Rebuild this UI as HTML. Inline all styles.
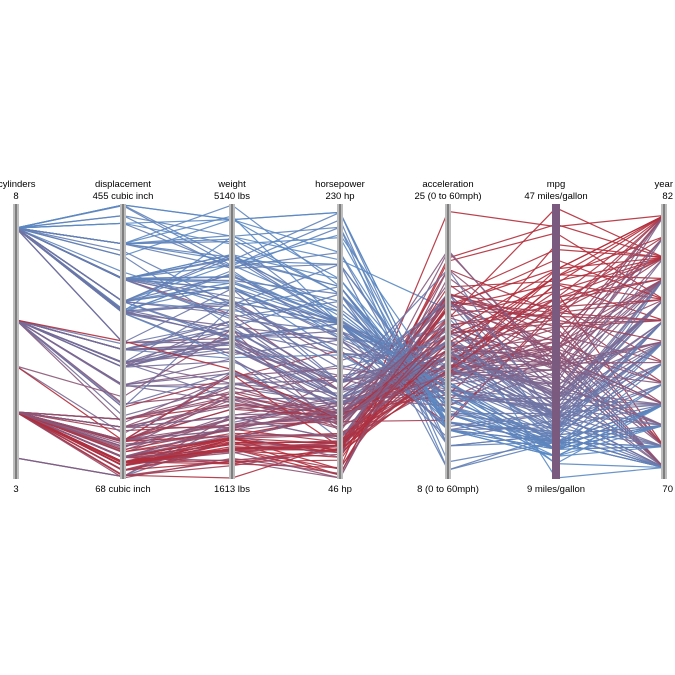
<!DOCTYPE html>
<html><head><meta charset="utf-8"><style>
html,body{margin:0;padding:0;background:#fff;}
svg{display:block;font-family:"Liberation Sans",sans-serif;}
</style></head><body>
<svg id="chart" width="675" height="675" viewBox="0 0 675 675">
<g id="lines"></g>
<g id="axes"></g>
</svg>
<script>
const dimNames = ["cylinders","displacement","weight","horsepower","acceleration","mpg","year"];
const dimMin = [3,68,1613,46,8,9,70];
const dimMax = [8,455,5140,230,25,47,82];
const minLabels = ["3","68 cubic inch","1613 lbs","46 hp","8 (0 to 60mph)","9 miles/gallon","70"];
const maxLabels = ["8","455 cubic inch","5140 lbs","230 hp","25 (0 to 60mph)","47 miles/gallon","82"];
// cars: [cylinders, displacement, weight, horsepower, acceleration, mpg, year]
const cars = [
[8,307,3504,130,12,18,70],[8,350,3693,165,11.5,15,70],[8,318,3436,150,11,18,70],[8,304,3433,150,12,16,70],
[8,302,3449,140,10.5,17,70],[8,429,4341,198,10,15,70],[8,454,4354,220,9,14,70],[8,440,4312,215,8.5,14,70],
[8,455,4425,225,10,14,70],[8,390,3850,190,8.5,15,70],[4,113,2372,95,15,24,70],[6,198,2833,95,15.5,22,70],
[6,199,2774,97,15.5,18,70],[6,200,2587,85,16,21,70],[4,97,2130,88,14.5,27,70],[4,97,1835,46,20.5,26,70],
[4,110,2672,87,17.5,25,70],[4,107,2430,90,14.5,24,70],[4,104,2375,95,17.5,25,70],[4,121,2234,113,12.5,26,70],
[8,304,4732,193,18.5,9,70],[4,97,2130,88,14.5,27,71],[4,140,2264,90,15.5,28,71],[4,113,2228,95,14,25,71],
[6,232,2634,100,13,19,71],[6,225,3439,105,15.5,16,71],[6,250,3329,100,15.5,17,71],[8,351,4154,153,13.5,14,71],
[8,383,4955,180,11.5,12,71],[8,400,4746,170,12,13,71],[4,79,2074,70,19.5,30,71],[4,71,1773,65,19,31,71],
[4,72,1613,69,18,35,71],[4,122,2226,86,16.5,22,72],[4,120,2979,87,19.5,21,72],[8,400,5140,175,12,13,71],
[8,400,4997,150,14,11,73],[8,429,4952,198,11.5,12,73],[4,98,2265,90,15.5,26,73],[6,156,2807,122,13.5,20,73],
[3,70,2124,90,13.5,18,73],[6,250,3158,72,19.5,15,75],[4,90,1937,70,14,29,75],[8,318,4498,150,14.5,16,75],
[4,120,2506,97,14.5,23,72],[3,70,2330,97,13.5,19,72],[4,90,2125,75,14.5,28,74],[4,71,1836,65,21,32,74],
[6,258,3632,110,18,16,74],[6,200,3012,81,17.6,24,76],[4,91,1795,53,17.5,33,75],[4,79,1825,58,18.6,36,77],
[4,90,1985,48,21.5,43.1,78],[4,98,1800,66,14.4,36.1,78],[8,302,3570,139,12.8,20.2,78],[8,318,4080,140,13.7,17.5,78],
[6,231,3535,105,19.2,19.2,78],[4,98,2045,68,18.5,31.5,77],[4,98,2144,76,14.7,41.5,80],[4,90,2085,48,21.7,44.3,80],
[4,86,2110,65,17.9,46.6,80],[3,70,2420,100,12.5,23.7,80],[6,168,2910,132,11.4,32.7,80],[4,85,2110,65,19.2,40.8,80],
[4,89,1845,62,15.3,29.8,80],[4,91,2130,69,14.7,37.3,79],[4,86,1975,65,15.2,34.1,79],[4,119,2300,97,14.7,27.2,78],
[4,151,2635,84,16.4,24.8,81],[8,350,3725,105,19,26.6,81],[6,232,2835,112,14.7,22,82],[4,105,2125,63,14.7,38,82],
[4,120,2160,88,14.5,36,82],[4,97,2130,52,24.6,44,82],[4,135,2295,84,11.6,32,82],[4,120,2625,79,18.6,28,82],
[4,119,2720,82,19.4,31,82],[4,140,2790,86,15.6,27,82],[4,108,2245,70,16.9,34,82],[6,225,3651,100,17.7,20,76],
[6,168,3820,120,16.7,16.5,76],[8,350,4055,145,12,13,76],[8,350,4165,170,11.4,15.5,77],[6,250,3520,110,16.4,17.5,77],
[4,98,2051,63,17,30.5,77],[5,131,2830,103,15.9,20.3,78],[5,183,3530,77,20.1,25.4,79],[5,121,2950,67,19.9,36.4,80],
[4,151,2556,90,13.2,33.5,79],[8,302,3205,139,11.2,18.1,78],[8,350,3900,125,17.4,23,79],[8,351,4054,142,14.3,15.5,79],
[8,260,3365,110,15.5,19.9,78],[6,173,2700,115,12.9,26.8,79],[4,151,2670,90,16,28.4,79],[6,231,3245,115,15.4,21.5,79],
[8,260,3420,90,22.2,23.9,79],[6,146,2930,120,13.8,24.2,81],[4,89,1968,60,18.8,38.1,80],[4,85,2070,70,18.6,39.4,78],
[4,97,1985,67,16.4,30,77],[4,140,2401,72,19.5,21,73],[8,318,4077,150,14,14,72],[8,360,3821,175,11,13,73],
[8,350,4499,180,12.5,12,73],[8,383,3563,170,10,15,70],[4,68,1867,49,19.5,29,73],[4,97,1950,46,21,26,73],
[6,171,2984,97,14.5,18,75],[6,250,3353,105,14.5,22,76],[4,78,1985,52,19.4,32.8,78],[4,98,2164,60,22.1,24.5,76],
[8,260,4060,110,19,17,77],[8,318,4382,210,13.5,11,70],[8,302,3169,129,12,13,75],[8,351,4215,152,12.8,14.5,76],
[6,250,3645,110,16.2,18.5,76],[4,140,2572,92,14.9,25,76],[4,121,2670,80,15,27.4,79],[4,122,2500,88,15.1,35,80],
[4,105,2190,74,14.2,33,81],[8,400,4464,175,11.5,14,71],[8,455,4951,225,11,14,73],[8,350,4209,165,12,13,72],
[4,116,2158,75,15.5,25,73],[4,97,2254,92,14.5,27,74],[6,225,3430,100,17.2,20,77],[4,91,1965,67,15.7,32,80],
[8,400,4668,150,11.5,14,72],[8,351,4129,158,13,13,72],[8,318,4135,150,13.5,13,72],[8,304,3892,150,12.5,15,72],
[8,429,4633,208,11,12,72],[8,350,4502,155,13.5,13,72],[8,350,4456,160,13.5,15,72],[8,400,4422,190,12.5,13,72],
[8,307,4098,130,14,13,72],[8,318,3777,150,12.5,14,73],[8,302,4294,140,16,14,73],[8,304,4257,150,14,13,73],
[8,351,4363,158,13,13,73],[8,318,4457,150,13.5,14,73],[8,440,4735,215,11,13,73],[8,455,4951,225,11,12,73],
[8,350,3664,145,11,16,73],[8,318,3399,150,11,14,73],[8,350,4440,175,12,14,74],[8,400,4699,170,13,13,74],
[8,350,3897,150,15,15,75],[8,318,4237,145,14.5,16,76],[8,351,3955,152,13.8,16,77],[8,400,4325,190,12.2,15,77],
[8,302,3870,130,15,17,76],[8,305,3425,145,13.2,19.2,78],[8,305,3840,130,15.4,17.5,79],[8,318,3735,135,13.2,18.5,79],
[6,250,3282,100,15,18,71],[6,232,3288,100,15.5,18,72],[6,225,3121,95,16.5,19,73],[6,250,3570,100,17,17,74],
[6,225,3381,105,16.5,19,75],[6,231,3897,110,21,17,76],[6,250,3278,98,17.3,20.5,77],[6,200,2965,85,15.8,20.8,78],
[6,225,3360,90,16.6,19.1,79],[6,200,3155,85,16.4,20.6,80],[6,231,3415,110,15.8,20.5,81],[6,262,3015,85,17,38,82],
[4,140,2408,72,19,22,72],[4,122,2310,86,16,26,73],[4,97,2279,88,19,24,74],[4,140,2542,83,17,25,75],
[4,85,1990,70,17,31,76],[4,91,1990,68,17.5,32,77],[4,79,2000,67,19,32,78],[4,89,2050,71,14.7,34,80],
[4,86,2019,64,16.4,37,81],[4,91,1985,68,16,37,82],[4,112,2385,88,14.5,25,82],[4,151,2735,90,18,27,82]
];
const axisX = [16,123,232,340,448,556,664];
const TOP = 205, BOT = 478;
function yScale(d, v){
  if (d === 0) return 458 - (v-3)*46;
  if (d === 6) { const step = (BOT-TOP)/13; return BOT - step/2 - (v-70)*step; }
  return BOT - (v - dimMin[d])/(dimMax[d]-dimMin[d])*(BOT-TOP);
}
function color(mpg){
  const t = Math.max(0, Math.min(1, (mpg-12)/(36-12)));
  const a=[90,138,196], b=[178,44,58];
  return "rgb("+a.map((c,i)=>Math.round(c+(b[i]-c)*t)).join(",")+")";
}
const NS="http://www.w3.org/2000/svg";
const lg=document.getElementById("lines");
cars.forEach((c,i)=>{
  const p=document.createElementNS(NS,"path");
  
  
  p.setAttribute("d", c.map((v,d)=>(d?"L":"M")+axisX[d]+","+yScale(d,v).toFixed(1)).join(""));
  p.setAttribute("fill","none");
  p.setAttribute("stroke",color(c[5]));
  p.setAttribute("stroke-width","1.2");
  p.setAttribute("stroke-opacity","0.9");
  lg.appendChild(p);
});
const ag=document.getElementById("axes");
dimNames.forEach((n,d)=>{
  const g=document.createElementNS(NS,"g");
  
  
  const x=axisX[d];
  const r=document.createElementNS(NS,"rect");
  const w = d===5?8:6;
  r.setAttribute("x",x-w/2); r.setAttribute("y",TOP-1); r.setAttribute("width",w); r.setAttribute("height",BOT-TOP+2);
  r.setAttribute("fill", d===5?"#7a5a7e":"#bdbdbd");
  g.appendChild(r);
  if(d!==5){
    const l=document.createElementNS(NS,"line");
    l.setAttribute("x1",x);l.setAttribute("x2",x);l.setAttribute("y1",TOP-1);l.setAttribute("y2",BOT+1);
    l.setAttribute("stroke","#555");l.setAttribute("stroke-width","1.2");
    g.appendChild(l);
  }
  const anchor = d===6?"end":"middle";
  const tx = d===6?673:x;
  [[n,187,'axis-title'],[maxLabels[d],199,'axis-max-label'],[minLabels[d],492,'axis-min-label']].forEach(([s,y,nm])=>{
    const t=document.createElementNS(NS,"text");
    
    
    t.setAttribute("x", d===0&&nm==='axis-title'?-2:tx);
    t.setAttribute("y",y);
    t.setAttribute("text-anchor", d===0&&nm==='axis-title'?"start":anchor);
    t.setAttribute("font-size","9.5");
    t.setAttribute("fill","#000");
    t.textContent=s;
    g.appendChild(t);
  });
  ag.appendChild(g);
});
</script>
</body></html>
